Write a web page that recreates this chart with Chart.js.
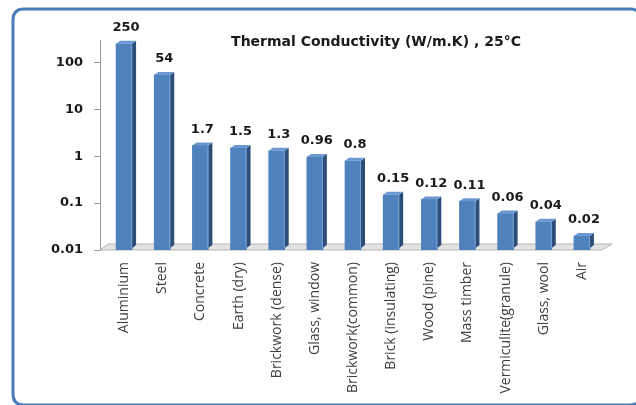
<!DOCTYPE html>
<html><head><meta charset="utf-8">
<script src="https://cdn.jsdelivr.net/npm/chart.js@4"></script>
<style>html,body{margin:0;padding:0;background:#fff;}canvas{display:block}</style>
</head><body>
<canvas id="c" width="636" height="405"></canvas>
<script>
const categories = ["Aluminium","Steel","Concrete","Earth (dry)","Brickwork (dense)","Glass, window","Brickwork(common)","Brick (insulating)","Wood (pine)","Mass timber","Vermiculite(granule)","Glass, wool","Air"];
const conductivity = [250,54,1.7,1.5,1.3,0.96,0.8,0.15,0.12,0.11,0.06,0.04,0.02];
const valueLabels = ["250","54","1.7","1.5","1.3","0.96","0.8","0.15","0.12","0.11","0.06","0.04","0.02"];
const yTickValues = [0.01,0.1,1,10,100];
const chartTitle = "Thermal Conductivity (W/m.K) , 25°C";

const FONT = "'Open Sans', 'Liberation Sans', sans-serif";
const BFONT = "'DejaVu Sans', sans-serif";

function rr(ctx,x,y,w,h,r){
  ctx.beginPath();
  ctx.moveTo(x+r,y);ctx.lineTo(x+w-r,y);ctx.quadraticCurveTo(x+w,y,x+w,y+r);
  ctx.lineTo(x+w,y+h-r);ctx.quadraticCurveTo(x+w,y+h,x+w-r,y+h);
  ctx.lineTo(x+r,y+h);ctx.quadraticCurveTo(x,y+h,x,y+h-r);
  ctx.lineTo(x,y+r);ctx.quadraticCurveTo(x,y,x+r,y);ctx.closePath();
}

const deco = {
  id:'deco',
  beforeDraw(chart){
    const ctx=chart.ctx;
    ctx.save();
    ctx.fillStyle='#fff';ctx.fillRect(0,0,chart.width,chart.height);
    ctx.strokeStyle='#4a7ebb';ctx.lineWidth=3;
    rr(ctx,13,9,628,396,11);ctx.stroke();
    ctx.restore();
  },
  beforeDatasetsDraw(chart){
    const ctx=chart.ctx, a=chart.chartArea, ys=chart.scales.y;
    const L=a.left, R=a.right, B=a.bottom, T=a.top;
    ctx.save();
    ctx.beginPath();
    ctx.moveTo(L-5,B);ctx.lineTo(R+1,B);ctx.lineTo(R+11,B-6);ctx.lineTo(L+3,B-6);ctx.closePath();
    ctx.fillStyle='#e3e3e3';ctx.fill();
    ctx.strokeStyle='#b5b5b5';ctx.lineWidth=1;ctx.stroke();
    ctx.beginPath();
    ctx.moveTo(L-4.5,T);ctx.lineTo(L-4.5,B);
    ctx.strokeStyle='#9a9a9a';ctx.stroke();
    ctx.beginPath();
    yTickValues.forEach(v=>{const y=Math.round(ys.getPixelForValue(v))+0.5;ctx.moveTo(L-11,y);ctx.lineTo(L-4.5,y);});
    ctx.stroke();
    ctx.restore();
  },
  afterDatasetsDraw(chart){
    const ctx=chart.ctx, meta=chart.getDatasetMeta(0);
    const d=4, dy=3;
    ctx.save();
    meta.data.forEach((el,i)=>{
      const p=el.getProps(['x','y','width','base'],true);
      const l=p.x-p.width/2, r=p.x+p.width/2;
      ctx.beginPath();
      ctx.moveTo(r,p.y);ctx.lineTo(r+d,p.y-dy);ctx.lineTo(r+d,p.base-dy-2);ctx.lineTo(r,p.base-2);ctx.closePath();
      ctx.fillStyle='#2c4d78';ctx.fill();
      ctx.beginPath();
      ctx.moveTo(l,p.y);ctx.lineTo(r,p.y);ctx.lineTo(r+d,p.y-dy);ctx.lineTo(l+d,p.y-dy);ctx.closePath();
      ctx.fillStyle='#6b98d0';ctx.fill();
      ctx.fillStyle='#7aa3d8';ctx.fillRect(r-1,p.y,1,p.base-2-p.y);
      ctx.fillStyle='#1a1a1a';ctx.font="bold 13px "+BFONT;
      ctx.textAlign='center';ctx.textBaseline='middle';
      ctx.fillText(valueLabels[i],p.x+2,p.y-16);
    });
    ctx.restore();
  },
  afterDraw(chart){
    const ctx=chart.ctx;
    ctx.save();
    ctx.fillStyle='#1a1a1a';ctx.font="bold 14px "+BFONT;
    ctx.textAlign='center';ctx.textBaseline='middle';
    ctx.fillText(chartTitle,376,42);
    ctx.restore();
  }
};

new Chart(document.getElementById('c'),{
  type:'bar',
  data:{labels:categories,datasets:[{data:conductivity,backgroundColor:'#4f81bd',borderWidth:0,barThickness:16}]},
  options:{
    responsive:false,animation:false,
    layout:{padding:{top:40,right:35,left:0,bottom:0}},
    plugins:{legend:{display:false},tooltip:{enabled:false},title:{display:false}},
    scales:{
      x:{
        grid:{display:false,drawTicks:false},border:{display:false},
        ticks:{autoSkip:false,minRotation:90,maxRotation:90,padding:12,color:'#404040',font:{family:FONT,size:14}},
        afterFit(s){s.height=155;}
      },
      y:{
        type:'logarithmic',min:0.01,max:300,
        grid:{display:false,drawTicks:false},border:{display:false},
        afterBuildTicks(s){s.ticks=yTickValues.map(v=>({value:v,major:true}));},
        ticks:{padding:22,color:'#1a1a1a',font:{family:BFONT,size:13,weight:'bold'},callback:(v)=>String(v)},
        afterFit(s){s.width=105;}
      }
    }
  },
  plugins:[deco]
});
</script>
</body></html>
